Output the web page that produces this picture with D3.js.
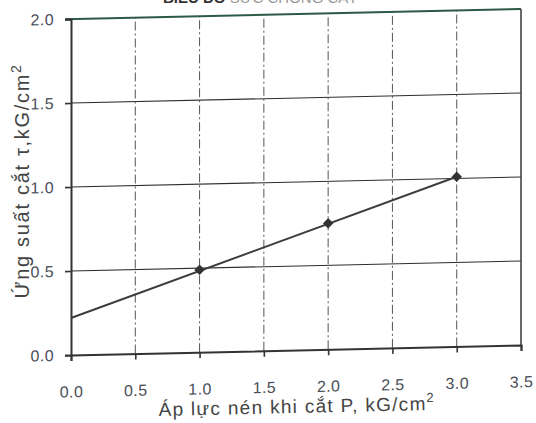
<!DOCTYPE html>
<html>
<head>
<meta charset="utf-8">
<script src="https://cdn.jsdelivr.net/npm/d3@7"></script>
<style>
  html, body { margin: 0; padding: 0; background: #fff; }
  svg { display: block; }
  text { font-family: "Liberation Sans", Arial, sans-serif; }
</style>
</head>
<body>
<svg id="chart" width="536" height="423"></svg>
<script>
// Shear test results: normal pressure P vs shear stress τ
const pressure = [1.0, 2.0, 3.0];
const shearStress = [0.49, 0.75, 1.01];
// Fitted strength envelope endpoints
const trendP = [0.0, 3.0];
const trendTau = [0.22, 1.01];
// Axis ticks
const xTicks = [0.0, 0.5, 1.0, 1.5, 2.0, 2.5, 3.0, 3.5];
const yTicks = [0.0, 0.5, 1.0, 1.5, 2.0];

const svg = d3.select("#chart");
const W = 450, H = 336;
const originX = 71, originY = 355;
const tilt = -1.27; // slight tilt of the whole plotting frame

const x = d3.scaleLinear().domain([0, 3.5]).range([0, W]);
const y = d3.scaleLinear().domain([0, 2.0]).range([0, -H]);

// Title (runs off the top edge)
svg.append("text")
  .attr("x", 163).attr("y", 3)
  .attr("font-size", 15).attr("font-weight", "bold").attr("fill", "#333")
  .text("BIỂU ĐỒ ")
  .append("tspan").attr("font-weight", "normal").attr("fill", "#999")
  .text("SỨC CHỐNG CẮT");

const g = svg.append("g")
  .attr("transform", `translate(${originX},${originY}) skewY(${tilt})`);

// Horizontal grid lines
g.selectAll("line.hgrid").data(yTicks.filter(v => v > 0 && v < 2))
  .join("line").attr("class", "hgrid")
  .attr("x1", 0).attr("x2", W)
  .attr("y1", d => y(d)).attr("y2", d => y(d))
  .attr("stroke", "#2e2e2e").attr("stroke-width", 1.1);

// Vertical grid lines (dash-dot)
g.selectAll("line.vgrid").data(xTicks.filter(v => v > 0 && v < 3.5))
  .join("line").attr("class", "vgrid")
  .attr("x1", d => x(d)).attr("x2", d => x(d))
  .attr("y1", 0).attr("y2", -H)
  .attr("stroke", "#555").attr("stroke-width", 1)
  .attr("stroke-dasharray", "9,3,2,3");

// Frame
g.append("line").attr("x1", -6).attr("x2", W).attr("y1", -H).attr("y2", -H)
  .attr("stroke", "#2d5a45").attr("stroke-width", 2);
g.append("line").attr("x1", W).attr("x2", W).attr("y1", 0).attr("y2", -H)
  .attr("stroke", "#444").attr("stroke-width", 1.6);

// Axes
const xAxis = d3.axisBottom(x).tickValues(xTicks).tickFormat(d3.format(".1f"))
  .tickSize(6).tickPadding(25);
const yAxis = d3.axisLeft(y).tickValues(yTicks).tickFormat(d3.format(".1f"))
  .tickSize(6).tickPadding(11);

const gx = g.append("g").call(xAxis);
const gy = g.append("g").call(yAxis);
[gx, gy].forEach(a => {
  a.select(".domain").attr("stroke", "#333").attr("stroke-width", 2);
  a.selectAll(".tick line").attr("stroke", "#333").attr("stroke-width", 1.6);
  a.selectAll(".tick text").attr("font-size", 16).attr("fill", "#4a4f58")
    .attr("letter-spacing", 0.4)
    .attr("font-family", "Liberation Sans, Arial, sans-serif");
});

// Strength envelope line
const pts = trendP.map((p, i) => [x(p), y(trendTau[i])]);
g.append("path").attr("d", d3.line()(pts))
  .attr("fill", "none").attr("stroke", "#3d3d3d").attr("stroke-width", 2);

// Measured points
g.selectAll("path.pt").data(pressure)
  .join("path").attr("class", "pt")
  .attr("transform", (d, i) => `translate(${x(d)},${y(shearStress[i])})`)
  .attr("d", d3.symbol(d3.symbolDiamond2, 70))
  .attr("fill", "#333");

// Axis titles
const yt = svg.append("text")
  .attr("transform", "translate(29,181) rotate(-90)")
  .attr("text-anchor", "middle").attr("font-size", 20).attr("fill", "#444")
  .attr("letter-spacing", 1.7);
yt.append("tspan").text("Ứng suất cắt τ,kG/cm");
yt.append("tspan").attr("dy", -8).attr("font-size", 14).text("2");

const xt = svg.append("text")
  .attr("transform", "translate(297,413) rotate(-1.27)")
  .attr("text-anchor", "middle").attr("font-size", 19).attr("fill", "#444")
  .attr("letter-spacing", 1.3);
xt.append("tspan").text("Áp lực nén khi cắt P, kG/cm");
xt.append("tspan").attr("dy", -8).attr("font-size", 13).text("2");
</script>
</body>
</html>
